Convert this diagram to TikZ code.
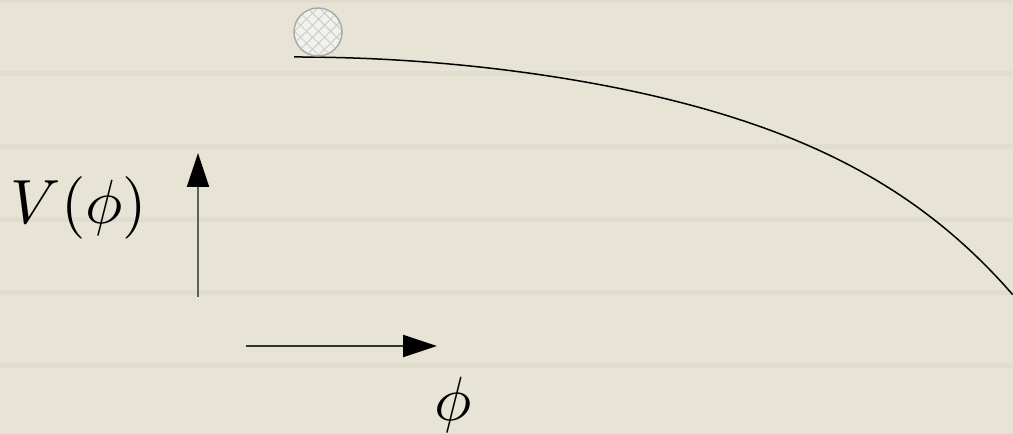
\documentclass[tikz,border=0pt]{standalone}
\usepackage{amsmath}
\usepackage{xcolor}
\definecolor{paperBg}{RGB}{231,228,214}
\definecolor{paperLine}{RGB}{224,220,206}
\definecolor{ballEdge}{RGB}{170,170,170}
\definecolor{ballHatch}{RGB}{200,204,218}
\definecolor{shaftGray}{RGB}{95,95,95}
\usetikzlibrary{arrows.meta,patterns.meta}
\tikzset{
  axisarrow/.style={-{Triangle[length=6.8pt,width=4.4pt,color=black]},draw=shaftGray,line width=0.4pt},
  bigmath/.style={inner sep=0pt,font=\normalsize,scale=1.25,transform shape},
  potential/.style={draw=black,line width=0.3pt},
  ball/.style={draw=ballEdge,line width=0.3pt,fill=paperBg!50!white}
}

\begin{document}
\begin{tikzpicture}[x=0.2pt,y=-0.2pt]
  \useasboundingbox (0,0) rectangle (1013,434);
  % paper background
  \fill[paperBg] (0,0) rectangle (1013,434);
  \foreach \k in {0,...,5}
    \fill[paperLine] (0,73*\k-2) rectangle (1013,73*\k+3);
  % potential curve and ball
  \draw[potential] plot[domain=0:1,samples=90] ({294+719*\x},{57+150*\x^2+88*\x^6});
  \node[ball,circle,minimum size=9.6pt,inner sep=0pt] (field) at (318,32) {};
  \fill[pattern={Lines[angle=45,distance=1.7pt,line width=0.2pt]},pattern color=ballHatch]
    (field.center) circle[radius=4.6pt];
  \fill[pattern={Lines[angle=-45,distance=1.7pt,line width=0.2pt]},pattern color=ballHatch]
    (field.center) circle[radius=4.6pt];
  % axes
  \coordinate (vbase) at (198,297);
  \coordinate (vtip) at (198,153);
  \coordinate (pbase) at (246,346);
  \coordinate (ptip) at (437,346);
  \draw[axisarrow] (vbase) -- (vtip);
  \draw[axisarrow,draw=black!80] (pbase) -- (ptip);
  \node[bigmath] (vlabel) at (79,208) {$V(\phi)$};
  \node[bigmath] (philabel) at (453,405) {$\phi$};
\end{tikzpicture}
\end{document}
